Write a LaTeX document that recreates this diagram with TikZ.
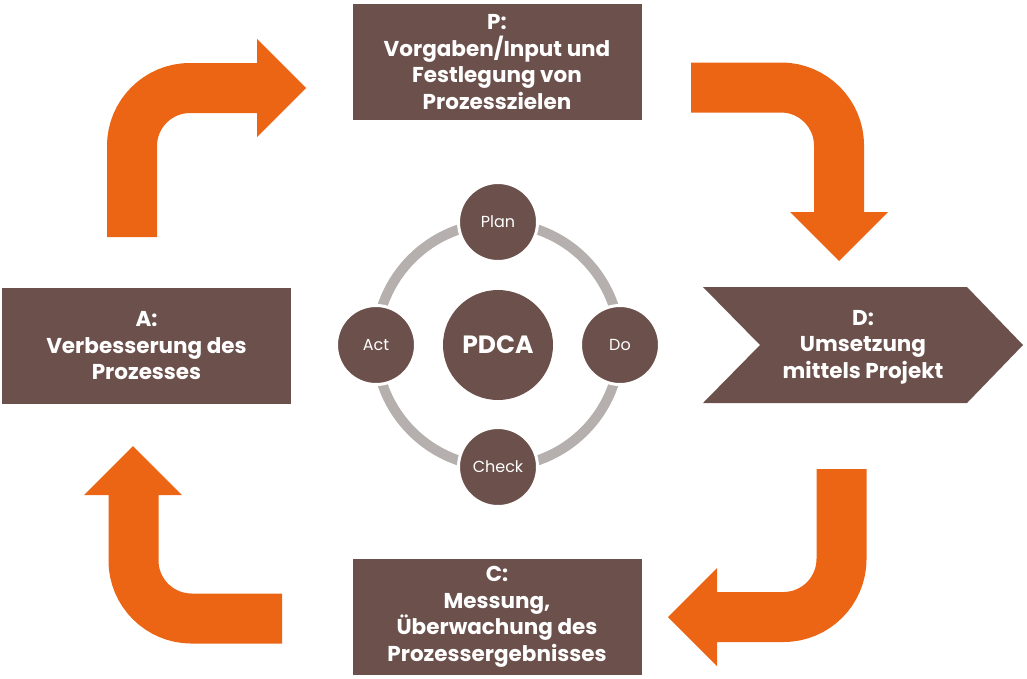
\documentclass[tikz,border=0pt]{standalone}
\usepackage{fontspec}
\newfontfamily\popfont{Poppins}
\definecolor{boxbrown}{HTML}{6B504B}
\definecolor{arroworange}{HTML}{EB6515}
\definecolor{ringgray}{HTML}{B5AFAD}
\begin{document}
\begin{tikzpicture}[x=1pt,y=-1pt,
  stagebox/.style={fill=boxbrown, text=white, inner sep=0pt, align=center,
    minimum width=289pt, minimum height=116pt,
    font=\popfont\bfseries\fontsize{21.5}{26.5}\selectfont},
  flow/.style={draw=arroworange, line width=50pt, rounded corners=58pt},
  flowhead/.style={fill=arroworange},
  small/.style={circle, fill=boxbrown, draw=white, line width=3pt, minimum size=79pt,
    inner sep=0pt, text=white, font=\popfont\fontsize{16}{18}\selectfont},
  big/.style={circle, fill=boxbrown, minimum size=110pt, inner sep=0pt, text=white,
    font=\popfont\bfseries\fontsize{25}{28}\selectfont}
]
\useasboundingbox (0,0) rectangle (1027,678);

% stage boxes
\node[stagebox] (P) at (497,62) {P:\\Vorgaben/Input und\\Festlegung von\\Prozesszielen};
\node[stagebox] (A) at (146.5,346) {A:\\Verbesserung des\\Prozesses};
\node[stagebox] (C) at (497,617) {C:\\Messung,\\Überwachung des\\Prozessergebnisses};
\fill[boxbrown] (703,287) -- (967,287) -- (1023,345) -- (967,403) -- (703,403) -- (760,345) -- cycle;
\node[text=white, align=center, font=\popfont\bfseries\fontsize{21.5}{26.5}\selectfont] (D) at (863,347) {D:\\Umsetzung\\mittels Projekt};

% orange flow arrows
\coordinate (tl0) at (132,237); \coordinate (tl1) at (132,88); \coordinate (tl2) at (258,88);
\draw[flow] (tl0) -- (tl1) -- (tl2);
\fill[flowhead] (257,39) -- (306,88) -- (257,137) -- cycle;

\coordinate (tr0) at (691,87.5); \coordinate (tr1) at (839,87.5); \coordinate (tr2) at (839,213);
\draw[flow] (tr0) -- (tr1) -- (tr2);
\fill[flowhead] (790,212) -- (888,212) -- (839,261) -- cycle;

\coordinate (br0) at (841.5,469); \coordinate (br1) at (841.5,617); \coordinate (br2) at (716,617);
\draw[flow] (br0) -- (br1) -- (br2);
\fill[flowhead] (717,568) -- (717,666) -- (668,617) -- cycle;

\coordinate (bl0) at (282,618.5); \coordinate (bl1) at (133.5,618.5); \coordinate (bl2) at (133.5,494);
\draw[flow] (bl0) -- (bl1) -- (bl2);
\fill[flowhead] (84,495) -- (182,495) -- (133,446) -- cycle;

% PDCA cycle
\node[big] (pdca) at (498,345) {PDCA};
\draw[ringgray, line width=10pt] (pdca.center) circle[radius=122];
\node[small] (plan) at (498,222) {Plan};
\node[small] (do) at (620,345) {Do};
\node[small] (check) at (498,467) {Check};
\node[small] (act) at (376,345) {Act};
\end{tikzpicture}
\end{document}
